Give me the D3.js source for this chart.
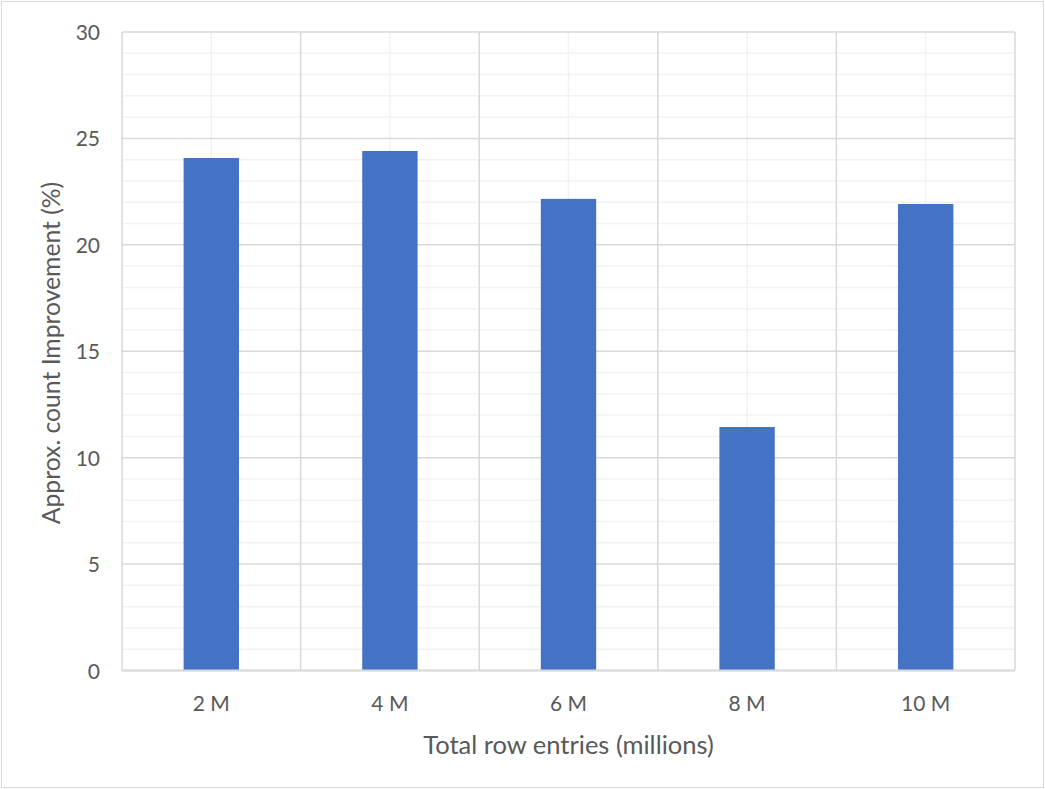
<!DOCTYPE html>
<html>
<head>
<meta charset="utf-8">
<script src="https://cdn.jsdelivr.net/npm/d3@7"></script>
<style>
  html, body { margin: 0; padding: 0; background: #fff; }
  svg { display: block; }
</style>
</head>
<body>
<svg id="chart" width="1045" height="789"></svg>
<script>
// Approximate-count improvement per dataset size
const categories = ["2 M", "4 M", "6 M", "8 M", "10 M"];
const improvement = [24.08, 24.41, 22.16, 11.44, 21.92];
const yTicks = [0, 5, 10, 15, 20, 25, 30];
const xTitle = "Total row entries (millions)";
const yTitle = "Approx. count Improvement (%)";

const W = 1045, H = 789;
const plot = { left: 122, right: 1015, top: 32, bottom: 670.5 };
const FONT = "Lato, 'Open Sans', sans-serif";
const TEXT = "#595959";
const MAJOR = "#D9D9D9";
const MINOR = "#F2F2F2";
const BAR = "#4472C4";

const svg = d3.select("#chart");

svg.append("rect")
  .attr("x", 1.5).attr("y", 1.5)
  .attr("width", W - 3).attr("height", H - 3)
  .attr("fill", "#fff").attr("stroke", MAJOR).attr("stroke-width", 1);

const x = d3.scaleBand().domain(categories).range([plot.left, plot.right]).padding(0);
const y = d3.scaleLinear().domain([0, 30]).range([plot.bottom, plot.top]);

const grid = svg.append("g");

// minor horizontal grid (every 1 unit)
grid.selectAll("line.hminor")
  .data(d3.range(0, 31).filter(v => v % 5 !== 0))
  .join("line")
  .attr("x1", plot.left).attr("x2", plot.right)
  .attr("y1", d => y(d)).attr("y2", d => y(d))
  .attr("stroke", MINOR).attr("stroke-width", 1.5);

// minor vertical grid at category centers
grid.selectAll("line.vminor")
  .data(categories)
  .join("line")
  .attr("x1", d => x(d) + x.bandwidth() / 2).attr("x2", d => x(d) + x.bandwidth() / 2)
  .attr("y1", plot.top).attr("y2", plot.bottom)
  .attr("stroke", MINOR).attr("stroke-width", 1.5);

// major horizontal grid
grid.selectAll("line.hmajor")
  .data(yTicks)
  .join("line")
  .attr("x1", plot.left).attr("x2", plot.right)
  .attr("y1", d => y(d)).attr("y2", d => y(d))
  .attr("stroke", MAJOR).attr("stroke-width", 1.5);

// major vertical grid at category boundaries
const bounds = categories.map(c => x(c)).concat([plot.right]);
grid.selectAll("line.vmajor")
  .data(bounds)
  .join("line")
  .attr("x1", d => d).attr("x2", d => d)
  .attr("y1", plot.top).attr("y2", plot.bottom)
  .attr("stroke", MAJOR).attr("stroke-width", 1.5);

// bars
const barW = x.bandwidth() * 0.31;
svg.append("g").selectAll("rect")
  .data(categories.map((c, i) => ({ c, v: improvement[i] })))
  .join("rect")
  .attr("x", d => x(d.c) + (x.bandwidth() - barW) / 2)
  .attr("width", barW)
  .attr("y", d => y(d.v))
  .attr("height", d => y(0) - y(d.v))
  .attr("fill", BAR);

// baseline
svg.append("line")
  .attr("x1", plot.left).attr("x2", plot.right)
  .attr("y1", y(0)).attr("y2", y(0))
  .attr("stroke", MAJOR).attr("stroke-width", 2);

// y axis labels
const yAxis = d3.axisLeft(y).tickValues(yTicks).tickSize(0).tickPadding(22);
const gy = svg.append("g").attr("transform", `translate(${plot.left},0)`).call(yAxis);
gy.select(".domain").remove();
gy.selectAll("text")
  .attr("fill", TEXT).style("font-family", FONT).style("font-size", "21px")
  .attr("dy", "0.36em");

// x axis labels
const xAxis = d3.axisBottom(x).tickSize(0).tickPadding(0);
const gx = svg.append("g").attr("transform", `translate(0,${plot.bottom})`).call(xAxis);
gx.select(".domain").remove();
gx.selectAll("text")
  .attr("fill", TEXT).style("font-family", FONT).style("font-size", "21px")
  .attr("y", 40).attr("dy", 0);

// axis titles
svg.append("text")
  .attr("x", (plot.left + plot.right) / 2).attr("y", 754)
  .attr("text-anchor", "middle")
  .attr("fill", TEXT).style("font-family", FONT).style("font-size", "25.5px")
  .text(xTitle);

svg.append("text")
  .attr("transform", `translate(60,353) rotate(-90)`)
  .attr("text-anchor", "middle")
  .attr("fill", TEXT).style("font-family", FONT).style("font-size", "24.7px")
  .text(yTitle);
</script>
</body>
</html>
